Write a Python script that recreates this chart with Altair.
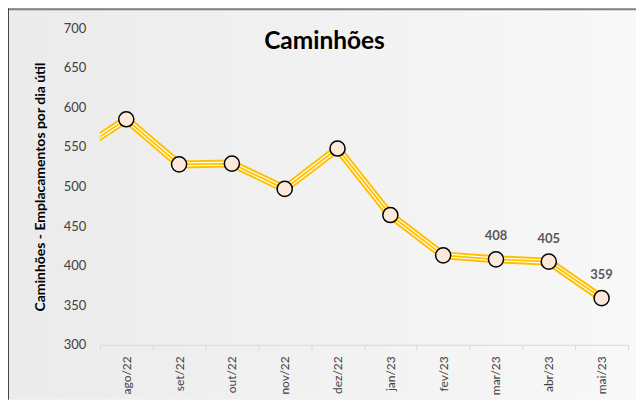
import altair as alt
import pandas as pd

# data (jul/22 lies just off the left edge of the plot; only its segment is visible)
months = ["jul/22", "ago/22", "set/22", "out/22", "nov/22", "dez/22",
          "jan/23", "fev/23", "mar/23", "abr/23", "mai/23"]
values = [541, 585, 528, 529, 497, 548, 464, 413, 408, 405, 359]
labelled = ["mar/23", "abr/23", "mai/23"]
y_ticks = [300, 350, 400, 450, 500, 550, 600, 650, 700]

df = pd.DataFrame({"idx": list(range(len(months))), "month": months, "value": values})
df["lab"] = [str(v) if m in labelled else "" for m, v in zip(months, values)]

W, H = 529, 317
PL, PT, PR, PB = 92, 20, 8, 55
FONT = "Lato"
YEL = "#FFC000"

label_map = "{" + ",".join(f"'{i}':'{m}'" for i, m in enumerate(months)) + "}"
x_enc = alt.X("idx:Q",
              scale=alt.Scale(domain=[0.5, len(months) - 0.5], nice=False, zero=False),
              axis=alt.Axis(values=[i + 0.5 for i in range(len(months))], tickCount=30,
                            labelExpr=f"({label_map})[''+(datum.value+0.5)] || ''",
                            labelOffset=26.45, labelAngle=-90, labelAlign="right",
                            labelBaseline="middle", labelPadding=6, labelFlush=False,
                            labelOverlap=False, labelFontSize=12, labelColor="#404040",
                            labelFont=FONT, domainColor="#d9d9d9", tickColor="#d9d9d9",
                            tickSize=5, grid=False, title=None, zindex=1))
y_enc = alt.Y("value:Q",
              scale=alt.Scale(domain=[300, 700], nice=False, zero=False),
              axis=alt.Axis(values=y_ticks, tickCount=30, domain=False, ticks=False, grid=False,
                            labelPadding=14, labelFontSize=13, labelColor="#404040",
                            labelFont=FONT, labelOverlap=False,
                            title="Caminhões - Emplacamentos por dia útil",
                            titleFont=FONT, titleFontSize=14, titleFontWeight="bold",
                            titleColor="#000000", titlePadding=16, zindex=1))

base = alt.Chart(df)

bg = alt.Chart(alt.Data(values=[{"a": 1}])).mark_rect(
    color=alt.LinearGradient(gradient="linear", x1=0, x2=1, y1=0, y2=0,
                             stops=[alt.GradientStop(color="#ebebeb", offset=0),
                                    alt.GradientStop(color="#f8f8f8", offset=1)]),
    clip=False).encode(x=alt.value(-PL), x2=alt.value(W + PR),
                       y=alt.value(-PT), y2=alt.value(H + PB))

border_top = alt.Chart(alt.Data(values=[{"a": 1}])).mark_rule(
    color="#7f7f7f", strokeWidth=2, clip=False).encode(
    x=alt.value(-PL), x2=alt.value(W + PR), y=alt.value(-PT + 1))
border_left = alt.Chart(alt.Data(values=[{"a": 1}])).mark_rule(
    color="#404040", strokeWidth=1, clip=False).encode(
    x=alt.value(-PL + 0.5), y=alt.value(-PT), y2=alt.value(H + PB))

line_outer = base.mark_line(color=YEL, strokeWidth=8, clip=True).encode(x=x_enc, y=y_enc)
line_mid = base.mark_line(color="#ffffff", strokeWidth=4, clip=True).encode(x="idx:Q", y="value:Q")
line_in = base.mark_line(color=YEL, strokeWidth=1.8, clip=True).encode(x="idx:Q", y="value:Q")

pts = base.transform_filter("datum.idx >= 1").mark_point(
    shape="circle", filled=True, size=230, fill="#FDE9D9", stroke="#000000",
    strokeWidth=1.5, opacity=1).encode(x="idx:Q", y="value:Q")

labels = base.transform_filter("datum.lab != ''").mark_text(
    font=FONT, fontSize=13, fontWeight="bold", color="#595959",
    baseline="alphabetic", dy=-19).encode(x="idx:Q", y="value:Q", text="lab:N")

title = alt.Chart(alt.Data(values=[{"t": "Caminhões"}])).mark_text(
    font=FONT, fontSize=24.5, fontWeight="bold", color="#000000",
    baseline="alphabetic", align="center").encode(
    x=alt.value(225), y=alt.value(21), text="t:N")

chart = alt.layer(bg, border_top, border_left, line_outer, line_mid, line_in,
                  pts, labels, title).properties(
    width=W, height=H,
    autosize=alt.AutoSizeParams(type="none"),
    padding={"left": PL, "top": PT, "right": PR, "bottom": PB},
).configure_view(stroke=None).configure(background="#ffffff")

chart.save("out.html", embed_options={"renderer": "svg", "actions": False})
